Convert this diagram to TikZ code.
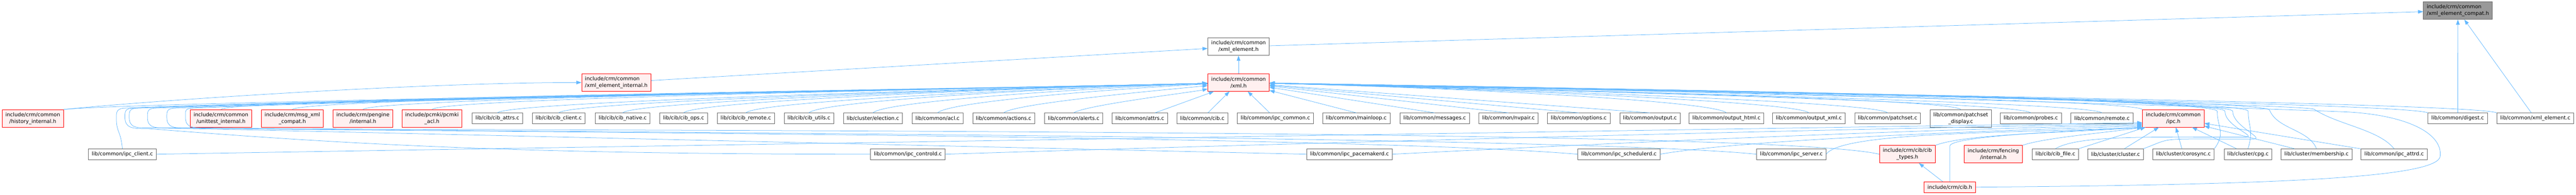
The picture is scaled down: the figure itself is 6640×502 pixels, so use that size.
\documentclass[tikz,border=0pt]{standalone}
\usepackage{fontspec}
\setmainfont{DejaVu Sans}
\usetikzlibrary{arrows.meta}
\definecolor{edgeblue}{HTML}{63B8FF}
\definecolor{boxgray}{HTML}{666666}
\definecolor{rootgray}{HTML}{999999}
\definecolor{truncpink}{HTML}{FFF0F0}
\begin{document}
\begin{tikzpicture}[x=0.75pt, y=0.75pt,
    srcfile/.style={draw=boxgray, fill=white, line width=0.75pt, font=\fontsize{10}{13}\selectfont, inner xsep=6.5pt, inner ysep=2pt, minimum height=20.6pt, align=center},
    trunc/.style={srcfile, draw=red, fill=truncpink},
    rootfile/.style={srcfile, fill=rootgray},
    two/.style={minimum height=33.75pt},
    incl/.style={draw=edgeblue, line width=0.75pt, -{Triangle[length=10pt,width=7pt]}}]
    \useasboundingbox (0,0) rectangle (6640,502);
    % headers
    \node[rootfile, two, align=left] (compat) at (6335.5,474.5) {include/crm/common\\/xml\_element\_compat.h};
    \node[srcfile, two] (xmlelem) at (3192.5,381.5) {include/crm/common\\/xml\_element.h};
    \node[trunc, two, align=left] (xei) at (1588.5,289) {include/crm/common\\/xml\_element\_internal.h};
    \node[trunc, two] (xml) at (3192.5,289) {include/crm/common\\/xml.h};
    % first row
    \node[trunc, two] (hist) at (84.5,196.5) {include/crm/common\\/history\_internal.h};
    \node[trunc, two] (unit) at (569.5,196.5) {include/crm/common\\/unittest\_internal.h};
    \node[trunc, two] (msgc) at (753.5,196.5) {include/crm/msg\_xml\\\_compat.h};
    \node[trunc, two] (peng) at (935.5,196.5) {include/crm/pengine\\/internal.h};
    \node[trunc, two] (pcmkiacl) at (1113.5,196.5) {include/pcmki/pcmki\\\_acl.h};
    \node[srcfile] (cibattrs) at (1282,196.5) {lib/cib/cib\_attrs.c};
    \node[srcfile] (cibclient) at (1440,196.5) {lib/cib/cib\_client.c};
    \node[srcfile] (cibnative) at (1605,196.5) {lib/cib/cib\_native.c};
    \node[srcfile] (cibops) at (1762,196.5) {lib/cib/cib\_ops.c};
    \node[srcfile] (cibremote) at (1922.5,196.5) {lib/cib/cib\_remote.c};
    \node[srcfile] (cibutils) at (2085,196.5) {lib/cib/cib\_utils.c};
    \node[srcfile] (election) at (2250,196.5) {lib/cluster/election.c};
    \node[srcfile] (acl) at (2416.5,196.5) {lib/common/acl.c};
    \node[srcfile] (actions) at (2587,196.5) {lib/common/actions.c};
    \node[srcfile] (alerts) at (2767.5,196.5) {lib/common/alerts.c};
    \node[srcfile] (attrs) at (2938,196.5) {lib/common/attrs.c};
    \node[srcfile] (cib) at (3099,196.5) {lib/common/cib.c};
    \node[srcfile] (ipccommon) at (3287.5,196.5) {lib/common/ipc\_common.c};
    \node[srcfile] (mainloop) at (3496,196.5) {lib/common/mainloop.c};
    \node[srcfile] (messages) at (3698,196.5) {lib/common/messages.c};
    \node[srcfile] (nvpair) at (3888,196.5) {lib/common/nvpair.c};
    \node[srcfile] (options) at (4069.5,196.5) {lib/common/options.c};
    \node[srcfile] (output) at (4253,196.5) {lib/common/output.c};
    \node[srcfile] (outhtml) at (4450,196.5) {lib/common/output\_html.c};
    \node[srcfile] (outxml) at (4662.5,196.5) {lib/common/output\_xml.c};
    \node[srcfile] (patchset) at (4865.5,196.5) {lib/common/patchset.c};
    \node[srcfile, two] (patchdisp) at (5054,196.5) {lib/common/patchset\\\_display.c};
    \node[srcfile] (probes) at (5234.5,196.5) {lib/common/probes.c};
    \node[srcfile] (remote) at (5418,196.5) {lib/common/remote.c};
    \node[trunc, two] (ipc) at (5602,196.5) {include/crm/common\\/ipc.h};
    \node[srcfile] (digest) at (6335,196.5) {lib/common/digest.c};
    \node[srcfile] (xmlelemc) at (6535,196.5) {lib/common/xml\_element.c};
    % second row
    \node[srcfile] (ipcclient) at (315.5,104) {lib/common/ipc\_client.c};
    \node[srcfile] (ipcctl) at (2340,104) {lib/common/ipc\_controld.c};
    \node[srcfile] (ipcpcmkd) at (3478.5,104) {lib/common/ipc\_pacemakerd.c};
    \node[srcfile] (ipcsched) at (4173,104) {lib/common/ipc\_schedulerd.c};
    \node[srcfile] (ipcserver) at (4617.5,104) {lib/common/ipc\_server.c};
    \node[trunc, two] (cibtypes) at (4916.5,104) {include/crm/cib/cib\\\_types.h};
    \node[trunc, two] (fencing) at (5138,104) {include/crm/fencing\\/internal.h};
    \node[srcfile] (cibfile) at (5298,104) {lib/cib/cib\_file.c};
    \node[srcfile] (cluster) at (5453,104) {lib/cluster/cluster.c};
    \node[srcfile] (corosync) at (5628,104) {lib/cluster/corosync.c};
    \node[srcfile] (cpg) at (5794.5,104) {lib/cluster/cpg.c};
    \node[srcfile] (membership) at (5971,104) {lib/cluster/membership.c};
    \node[srcfile] (ipcattrd) at (6171,104) {lib/common/ipc\_attrd.c};
    \node[trunc] (cibh) at (5026,19) {include/crm/cib.h};

    % top of the graph
    \draw[incl] (xmlelem) -- (compat);
    \draw[incl] (digest) -- (compat);
    \draw[incl] (xmlelemc) -- (compat);
    \draw[incl] (xml) -- (xmlelem);
    \draw[incl] (xei) -- (xmlelem);
    \draw[incl] (hist.north east) .. controls +(250,25) and +(-500,0) .. (xei);

    % first row to xml.h
    \draw[incl] (hist.north east) .. controls +(200,20) and +(-600,-15) .. (xml);
    \draw[incl] (unit.north) .. controls +(30,30) and +(-600,-15) .. (xml);
    \draw[incl] (msgc.north) .. controls +(30,30) and +(-600,-15) .. (xml);
    \draw[incl] (peng.north) .. controls +(30,30) and +(-600,-15) .. (xml);
    \draw[incl] (pcmkiacl.north) .. controls +(30,30) and +(-600,-15) .. (xml);
    \draw[incl] (cibattrs.north) .. controls +(30,30) and +(-600,-15) .. (xml);
    \draw[incl] (cibclient.north) .. controls +(30,30) and +(-600,-15) .. (xml);
    \draw[incl] (cibnative.north) .. controls +(30,30) and +(-600,-15) .. (xml);
    \draw[incl] (cibops.north) .. controls +(30,30) and +(-600,-15) .. (xml);
    \draw[incl] (cibremote.north) .. controls +(30,30) and +(-500,-15) .. (xml);
    \draw[incl] (cibutils.north) .. controls +(30,30) and +(-500,-15) .. (xml);
    \draw[incl] (election.north) .. controls +(30,30) and +(-400,-15) .. (xml);
    \draw[incl] (acl.north) .. controls +(30,30) and +(-300,-15) .. (xml);
    \draw[incl] (actions.north) .. controls +(30,25) and +(-200,-20) .. (xml);
    \draw[incl] (alerts.north) .. controls +(30,20) and +(-120,-25) .. (xml);
    \draw[incl] (attrs) -- (xml);
    \draw[incl] (cib) -- (xml);
    \draw[incl] (ipccommon) -- (xml);
    \draw[incl] (mainloop.north) -- (xml);
    \draw[incl] (messages.north) -- (xml);
    \draw[incl] (nvpair.north) -- (xml);
    \draw[incl] (options.north) -- (xml);
    \draw[incl] (output.north) -- (xml);
    \draw[incl] (outhtml.north) .. controls +(-30,30) and +(600,-15) .. (xml);
    \draw[incl] (outxml.north) .. controls +(-30,30) and +(600,-15) .. (xml);
    \draw[incl] (patchset.north) .. controls +(-30,30) and +(600,-15) .. (xml);
    \draw[incl] (patchdisp.north) .. controls +(-30,30) and +(600,-15) .. (xml);
    \draw[incl] (probes.north) .. controls +(-30,30) and +(600,-15) .. (xml);
    \draw[incl] (remote.north) .. controls +(-30,30) and +(600,-15) .. (xml);
    \draw[incl] (ipc.north west) .. controls +(-30,30) and +(600,-15) .. (xml);
    \draw[incl] (digest.north west) .. controls +(-60,30) and +(600,-15) .. (xml);
    \draw[incl] (xmlelemc.north west) .. controls +(-60,30) and +(600,-15) .. (xml);

    % second row to xml.h, round the left end
    \draw[incl] (ipcclient.north) .. controls +(-5,50) and +(0,-40) .. (300,198) .. controls +(0,15) and +(-25,0) .. (325,223) .. controls +(600,25) and +(-600,-15) .. (xml);
    \draw[incl] (ipcctl.west) .. controls +(-900,0) and +(500,-40) .. (382,170) .. controls +(-40,0) and +(0,-30) .. (322,200) .. controls +(0,15) and +(-25,0) .. (347,223) .. controls +(600,25) and +(-600,-15) .. (xml);
    \draw[incl] (ipcpcmkd.west) .. controls +(-900,20) and +(500,-10) .. (393,172) .. controls +(-40,0) and +(0,-30) .. (333,200) .. controls +(0,15) and +(-25,0) .. (358,223) .. controls +(600,25) and +(-600,-15) .. (xml);
    \draw[incl] (ipcsched.west) .. controls +(-600,50) and +(600,-10) .. (440,172) .. controls +(-40,0) and +(0,-30) .. (380,200) .. controls +(0,15) and +(-25,0) .. (405,223) .. controls +(600,25) and +(-600,-15) .. (xml);
    \draw[incl] (ipcserver.west) .. controls +(-500,50) and +(600,-10) .. (490,172) .. controls +(-40,0) and +(0,-30) .. (430,200) .. controls +(0,15) and +(-25,0) .. (455,223) .. controls +(600,25) and +(-600,-15) .. (xml);
    \draw[incl] (cibtypes.west) .. controls +(-300,70) and +(600,-10) .. (538,172) .. controls +(-40,0) and +(0,-30) .. (478,200) .. controls +(0,15) and +(-25,0) .. (500,223) .. controls +(600,25) and +(-600,-15) .. (xml);

    % second row to xml.h, round the right end
    \draw[incl] (cibfile.north) .. controls +(60,35) and +(-250,0) .. (5785,148) .. controls +(40,0) and +(0,-40) .. (5735,215) .. controls +(0,35) and +(700,-12) .. (xml);
    \draw[incl] (cluster.north east) .. controls +(80,30) and +(-250,0) .. (5805,143) .. controls +(40,0) and +(0,-40) .. (5755,215) .. controls +(0,35) and +(700,-12) .. (xml);
    \draw[incl] (corosync.north east) .. controls +(30,40) and +(0,-40) .. (5715,215) .. controls +(0,35) and +(700,-12) .. (xml);
    \draw[incl] (cpg.north) .. controls +(15,50) and +(0,-40) .. (5795,215) .. controls +(0,35) and +(700,-12) .. (xml);
    \draw[incl] (membership.north) .. controls +(-20,50) and +(20,-50) .. (5850,218) .. controls +(-5,30) and +(700,-12) .. (xml);
    \draw[incl] (ipcattrd.north) .. controls +(-40,50) and +(60,-40) .. (5965,220) .. controls +(-20,15) and +(700,-12) .. (xml);
    \draw[incl] (cibh.east) .. controls (5900,25) and (6290,45) .. (6290,100) .. controls (6295,160) and (6200,205) .. (6050,213) .. controls (5500,235) and (3972,277) .. (xml);

    % second row to ipc.h
    \draw[incl] (ipcclient.east) .. controls +(1500,25) and +(-1000,-15) .. (ipc.188);
    \draw[incl] (ipcctl.east) .. controls +(800,25) and +(-900,-15) .. (ipc.190);
    \draw[incl] (ipcpcmkd.east) .. controls +(500,25) and +(-700,-15) .. (ipc.192);
    \draw[incl] (ipcsched.east) .. controls +(200,35) and +(-500,-15) .. (ipc.194);
    \draw[incl] (ipcserver.east) .. controls +(40,60) and +(-300,-15) .. (ipc.south west);
    \draw[incl] (cibtypes.north east) .. controls +(80,30) and +(-200,-15) .. (ipc.south west);
    \draw[incl] (fencing.north east) .. controls +(60,20) and +(-100,-15) .. (ipc.south west);
    \draw[incl] (cibfile.north east) -- (ipc);
    \draw[incl] (cluster) -- (ipc);
    \draw[incl] (corosync) -- (ipc);
    \draw[incl] (cpg) -- (ipc);
    \draw[incl] (membership) -- (ipc);
    \draw[incl] (ipcattrd) -- (ipc);
    \draw[incl] (cibh.north) -- (5026,125) .. controls +(0,25) and +(-200,-10) .. (ipc.south west);
    \draw[incl] (cibh) -- (cibtypes);
\end{tikzpicture}
\end{document}
